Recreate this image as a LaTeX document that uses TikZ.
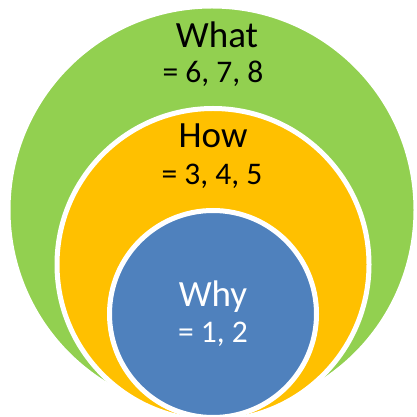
\documentclass[tikz,border=0pt]{standalone}
\usepackage{fontspec}
\setmainfont{Carlito}
\usetikzlibrary{positioning}

\definecolor{whatgreen}{HTML}{92D050}
\definecolor{howorange}{HTML}{FFC000}
\definecolor{whyblue}{HTML}{4F81BD}

\begin{document}
\begin{tikzpicture}[
  x=1pt, y=1pt,
  ring/.style={circle, draw=white, line width=5pt, inner sep=0pt},
  title/.style={anchor=base, inner sep=0pt, font=\fontsize{37}{37}\selectfont},
  value/.style={anchor=base, inner sep=0pt, font=\fontsize{31.5}{31.5}\selectfont}
]
\useasboundingbox (0,0) rectangle (416,417);

\node[ring, fill=whatgreen, minimum size=408] (what) at (212,207) {};
\node[ring, fill=howorange, minimum size=312] (how) at (213,152.5) {};
\node[ring, fill=whyblue, minimum size=207] (why) at (213,103) {};

\node[title] (whatlbl) at (217,369) {What};
\node[value] (whatval) at (213,334) {= 6, 7, 8};
\node[title] (howlbl) at (213,269) {How};
\node[value] (howval) at (212,232) {= 3, 4, 5};
\node[title, text=white] (whylbl) at (213,110) {Why};
\node[value, text=white] (whyval) at (213,74) {= 1, 2};
\end{tikzpicture}
\end{document}
